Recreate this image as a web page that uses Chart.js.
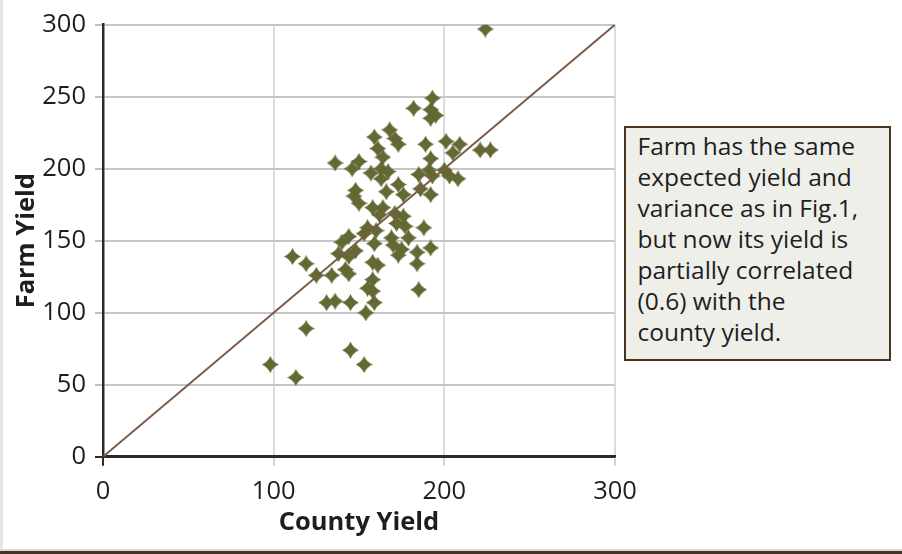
<!DOCTYPE html>
<html>
<head>
<meta charset="utf-8">
<script src="https://cdn.jsdelivr.net/npm/chart.js@4/dist/chart.umd.min.js"></script>
<style>
  html, body { margin: 0; padding: 0; background: #ffffff; }
  #wrap { position: relative; width: 902px; height: 554px; overflow: hidden; }
  #c { position: absolute; left: 0; top: 0; }
  #note {
    position: absolute; left: 624px; top: 126px; width: 267px; height: 235px;
    box-sizing: border-box; border: 2.5px solid #4a3420; background: #efefea;
    padding: 2px 0 0 11.5px; font-family: "Open Sans", Lato, sans-serif; font-size: 24.5px;
    line-height: 31px; color: #1e1e1e; white-space: nowrap;
  }
</style>
</head>
<body>
<div id="wrap">
  <canvas id="c" width="902" height="554"></canvas>
  <div id="note">Farm has the same<br>expected yield and<br>variance as in Fig.1,<br>but now its yield is<br>partially correlated<br>(0.6) with the<br>county yield.</div>
</div>
<script>
// ---- data ----
const countyYield = [224, 193, 182, 192, 195, 192, 168, 159, 171, 173, 161, 189, 201, 209, 205, 221, 227, 164, 192,
  136, 150, 146, 163, 167, 157, 185, 191, 193, 200, 203, 208, 163, 148, 147, 166, 173, 176, 186, 192,
  150, 158, 164, 162, 171, 176, 172, 177, 188, 155, 160, 153, 144, 169, 179,
  140, 159, 170, 175, 192, 184, 148, 138, 144, 173, 111, 119, 158, 161, 184, 142, 144, 134, 125, 158, 155, 158, 185,
  131, 136, 145, 159, 154, 119, 145, 153, 98, 113];
const farmYield = [297, 249, 242, 241, 237, 235, 227, 222, 221, 217, 214, 217, 219, 217, 211, 213, 213, 208, 207,
  204, 205, 200, 200, 198, 197, 196, 199, 195, 199, 195, 193, 193, 185, 181, 184, 189, 182, 186, 182,
  176, 173, 173, 168, 169, 167, 162, 160, 159, 159, 157, 155, 153, 152, 152,
  149, 148, 147, 144, 145, 142, 143, 141, 139, 140, 139, 134, 135, 133, 134, 130, 127, 126, 126, 123, 117, 115, 116,
  107, 108, 107, 107, 100, 89, 74, 64, 64, 55];
const lineX = [0, 300];
const lineY = [0, 300];
const xTicks = [0, 100, 200, 300];
const yTicks = [0, 50, 100, 150, 200, 250, 300];
const xTitle = 'County Yield';
const yTitle = 'Farm Yield';

const scatterPts = countyYield.map((x, i) => ({ x: x, y: farmYield[i] }));
const linePts = lineX.map((x, i) => ({ x: x, y: lineY[i] }));

// 4-point star marker
function makeStar(size, color) {
  const c = document.createElement('canvas');
  c.width = size; c.height = size;
  const g = c.getContext('2d');
  const r = size / 2, k = 0.3 * r;
  g.fillStyle = color;
  g.beginPath();
  g.moveTo(r, 0);
  g.quadraticCurveTo(r + k, r - k, size, r);
  g.quadraticCurveTo(r + k, r + k, r, size);
  g.quadraticCurveTo(r - k, r + k, 0, r);
  g.quadraticCurveTo(r - k, r - k, r, 0);
  g.closePath();
  g.fill();
  return c;
}
const star = makeStar(17, '#646833');

const bgPlugin = {
  id: 'bg',
  beforeDraw(chart) {
    const g = chart.ctx;
    g.save();
    g.fillStyle = '#ffffff';
    g.fillRect(0, 0, 902, 554);
    g.fillStyle = '#e8e6e2';
    g.fillRect(0, 0, 3, 554);
    g.fillStyle = '#dedbd6';
    g.fillRect(0, 549, 902, 2);
    g.fillStyle = '#4b3220';
    g.fillRect(0, 551, 902, 3);
    g.restore();
  }
};

const tickFont = { family: '"Open Sans", Lato, sans-serif', size: 25.5 };
const titleFont = { family: '"Open Sans", Lato, sans-serif', size: 25.5, weight: 'bold' };

new Chart(document.getElementById('c'), {
  data: {
    datasets: [
      { type: 'line', data: linePts, borderColor: '#7b5a46', borderWidth: 2, pointRadius: 0, fill: false, tension: 0 },
      { type: 'scatter', data: scatterPts, pointStyle: star, pointRadius: 8.5, backgroundColor: '#646833', borderWidth: 0 }
    ]
  },
  options: {
    responsive: false,
    animation: false,
    devicePixelRatio: 1,
    layout: { padding: { left: 0, top: 24.7, right: 287, bottom: 0 } },
    plugins: { legend: { display: false }, tooltip: { enabled: false } },
    scales: {
      x: {
        type: 'linear', min: 0, max: 300,
        afterBuildTicks: s => { s.ticks = xTicks.map(v => ({ value: v })); },
        afterFit: s => { s.height = 97.3; },
        ticks: { font: tickFont, color: '#1e1e1e', padding: 11 },
        grid: {
          color: ctx => ctx.tick && ctx.tick.value === 0 ? '#2b2b2b' : '#dcdcdc',
          lineWidth: 2, tickLength: 9,
          tickColor: ctx => ctx.tick && ctx.tick.value === 0 ? '#2b2b2b' : '#d4d4d4'
        },
        border: { color: '#2b2b2b', width: 2.5 },
        title: { display: true, text: xTitle, font: titleFont, color: '#1e1e1e', padding: { top: 0, bottom: 15.5 } }
      },
      y: {
        type: 'linear', min: 0, max: 300,
        afterBuildTicks: s => { s.ticks = yTicks.map(v => ({ value: v })); },
        afterFit: s => { s.width = 103; },
        ticks: { font: tickFont, color: '#1e1e1e', padding: 9 },
        grid: {
          color: ctx => ctx.tick && ctx.tick.value === 0 ? '#2b2b2b' : '#c6c6c6',
          lineWidth: 2, tickLength: 8,
          tickColor: ctx => ctx.tick && ctx.tick.value === 0 ? '#2b2b2b' : '#c0c0c0'
        },
        border: { color: '#2b2b2b', width: 2.5 },
        title: { display: true, text: yTitle, font: titleFont, color: '#1e1e1e', padding: { top: 11, bottom: 0 } }
      }
    }
  },
  plugins: [bgPlugin]
});
</script>
</body>
</html>
